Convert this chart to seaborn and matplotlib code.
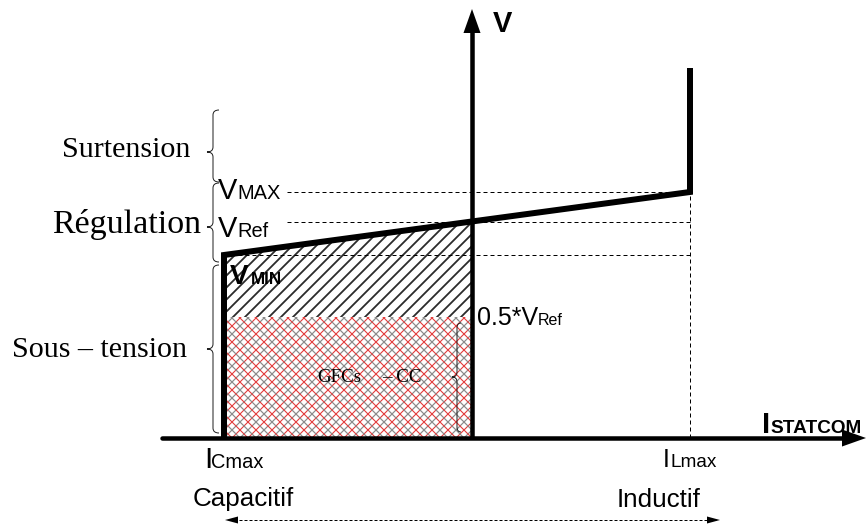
import numpy as np
import pandas as pd
import seaborn as sns
import matplotlib
matplotlib.use("Agg")
import matplotlib.pyplot as plt
from matplotlib.path import Path
from matplotlib.patches import PathPatch, Polygon, Rectangle
from matplotlib.collections import LineCollection

# ---- STATCOM V-I characteristic (schematic units, origin at the axes crossing) ----
current = [-248, -248, 218, 218]      # I_Cmax ... I_Lmax
voltage = [0, 183, 246, 370]          # 0, V_MIN, V_MAX, over-voltage limit
I_CMAX, I_LMAX = -248, 218
V_MIN, V_REF, V_MAX = 183, 216, 246
V_HALF = 121                          # 0.5*V_Ref level (GFCs - CC zone)

zone_names = ["Surtension", "Régulation", "Sous \u2013 tension"]
mode_names = ["Capacitif", "Inductif"]

SANS = "Liberation Sans"
SERIF = "Liberation Serif"

sns.set_theme(style="white")
plt.rcParams["font.family"] = [SANS, "DejaVu Sans"]

fig = plt.figure(figsize=(867 / 72, 525 / 72), dpi=72)
ax = fig.add_axes([0, 0, 1, 1])


def hatch(ax, clip, spacing, offset, slope, color, lw, z):
    xa, xb = -500, 500
    cs = np.arange(-1200, 1200, spacing) + offset
    segs = [[(xa, slope * xa + c), (xb, slope * xb + c)] for c in cs]
    lc = LineCollection(segs, colors=color, linewidths=lw, zorder=z)
    ax.add_collection(lc)
    lc.set_clip_path(clip)


def brace(ax, x, y_top, y_bot, y_tip, w_tip=6, w_end=6, r=5, lw=1.0, color="#222222"):
    verts = [(x + w_end, y_top), (x, y_top), (x, y_top - r),
             (x, y_tip + r), (x, y_tip), (x - w_tip, y_tip),
             (x, y_tip), (x, y_tip - r),
             (x, y_bot + r), (x, y_bot), (x + w_end, y_bot)]
    codes = [Path.MOVETO, Path.CURVE3, Path.CURVE3,
             Path.LINETO, Path.CURVE3, Path.CURVE3,
             Path.CURVE3, Path.CURVE3,
             Path.LINETO, Path.CURVE3, Path.CURVE3]
    ax.add_patch(PathPatch(Path(verts, codes), fill=False, lw=lw,
                           edgecolor=color, zorder=5))


# ---- GFCs - CC zone: red / grey lattice ----
gfc = Rectangle((I_CMAX, 0), -I_CMAX, V_HALF, facecolor="white",
                edgecolor="none", zorder=1)
ax.add_patch(gfc)
for slope in (1, -1):
    hatch(ax, gfc, 16, 0, slope, "#e23a3a", 1.1, 2)
    hatch(ax, gfc, 16, 8, slope, "#8a8a8a", 1.2, 2)

# ---- hatched zone between 0.5*V_Ref and the characteristic ----
v_at_zero = np.interp(0, current[1:3], voltage[1:3])
reg = Polygon([(I_CMAX, V_MIN), (0, v_at_zero), (0, V_HALF), (I_CMAX, V_HALF)],
              closed=True, facecolor="white", edgecolor="none", zorder=1)
ax.add_patch(reg)
hatch(ax, reg, 12, 0, 1, "#2b2b2b", 1.8, 2)

# ---- dashed guide lines ----
dash = dict(color="black", lw=1.0, dashes=(4, 3), zorder=3)
ax.plot([-185, I_LMAX], [V_MAX, V_MAX], **dash)
ax.plot([-185, I_LMAX], [V_REF, V_REF], **dash)
ax.plot([I_CMAX, I_LMAX + 3], [V_MIN, V_MIN], **dash)
ax.plot([I_LMAX, I_LMAX], [0, V_MAX], **dash)

# ---- characteristic ----
df = pd.DataFrame({"I": current, "V": voltage})
sns.lineplot(data=df, x="I", y="V", sort=False, estimator=None, ax=ax,
             color="black", lw=6, solid_joinstyle="miter",
             solid_capstyle="butt", zorder=4)

# ---- axes with arrow heads ----
ax.plot([-310, 380], [0, 0], color="black", lw=4.5,
        solid_capstyle="round", zorder=5)
ax.plot([0, 0], [0, 410], color="black", lw=4.5,
        solid_capstyle="butt", zorder=5)
head = dict(arrowstyle="-|>,head_length=0.4,head_width=0.142",
            mutation_scale=60, lw=0, color="black", shrinkA=0, shrinkB=0)
ax.annotate("", xy=(394, 0), xytext=(360, 0), arrowprops=head, zorder=6)
ax.annotate("", xy=(0, 429), xytext=(0, 395), arrowprops=head, zorder=6)

# capacitive / inductive range arrow
ax.plot([-243, 244], [-82, -82], color="black", lw=1.0, dashes=(3, 2), zorder=5)
ax.annotate("", xy=(-247, -82), xytext=(248, -82),
            arrowprops=dict(arrowstyle="<|-|>,head_length=0.65,head_width=0.175",
                            mutation_scale=20, lw=0, color="black",
                            shrinkA=0, shrinkB=0), zorder=6)

# ---- braces ----
brace(ax, -259, 328, 256, 286)
brace(ax, -259, 255, 176, 211)
brace(ax, -259, 173, 5, 89)
brace(ax, -15, 115, 6, 61, w_tip=5, w_end=4)

# ---- text ----
def txt(x, y, s, size, family=SANS, weight="normal"):
    ax.text(x, y, s, fontsize=size, family=family, fontweight=weight,
            ha="left", va="baseline", color="black", zorder=7)

txt(-410, 281, zone_names[0], 30, SERIF)
txt(-420, 205, zone_names[1], 34, SERIF)
txt(-460, 81, zone_names[2], 30, SERIF)

txt(21, 406, "V", 29, weight="bold")

txt(-254, 239, "V", 29)
txt(-235, 239, "MAX", 20)
txt(-254, 201, "V", 29)
txt(-235, 201, "Ref", 20)
txt(-242, 154, "V", 28, weight="bold")
txt(-221, 154, "MIN", 17, weight="bold")
txt(5, 113, "0.5*V", 25)
txt(66, 113, "Ref", 16)

txt(-155, 56, "GFCs", 19, SERIF)
txt(-90, 56, "\u2013 CC", 19, SERIF)

txt(-268, -30, "I", 30)
txt(-261, -30, "Cmax", 20)
txt(191, -29, "I", 25)
txt(198, -29, "Lmax", 19)
txt(290, 5, "I", 29, weight="bold")
txt(298, 5, "STATCOM", 19, weight="bold")

txt(-279, -68, mode_names[0], 26)
txt(145, -69, mode_names[1], 26)

ax.set_xlim(-472, 395)
ax.set_ylim(-87, 438)
ax.set_axis_off()

fig.savefig("out.png", dpi=72)
